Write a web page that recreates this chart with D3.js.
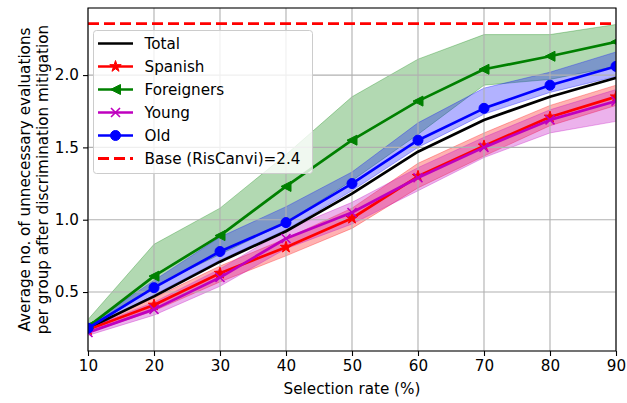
<!DOCTYPE html>
<html>
<head>
<meta charset="utf-8">
<script src="https://cdn.jsdelivr.net/npm/d3@7"></script>
<style>
  html, body { margin: 0; padding: 0; background: #fff; }
  svg { display: block; font-family: "DejaVu Sans", sans-serif; }
</style>
</head>
<body>
<svg id="chart" width="627" height="403"></svg>
<script>
// Selection rates on the x axis
const rates = [10, 20, 30, 40, 50, 60, 70, 80, 90];

// Mean number of unnecessary evaluations per group
const total      = [0.25, 0.47, 0.71, 0.92, 1.18, 1.47, 1.69, 1.85, 1.98];
const spanish    = [0.24, 0.41, 0.63, 0.81, 1.01, 1.30, 1.51, 1.71, 1.85];
const foreigners = [0.26, 0.61, 0.89, 1.23, 1.55, 1.82, 2.04, 2.13, 2.23];
const young      = [0.22, 0.38, 0.60, 0.87, 1.05, 1.29, 1.50, 1.69, 1.82];
const old        = [0.25, 0.53, 0.78, 0.98, 1.25, 1.55, 1.77, 1.93, 2.06];

// Spread bands (lower / upper) around each group mean
const spanishLo    = [0.22, 0.37, 0.57, 0.75, 0.94, 1.22, 1.44, 1.65, 1.79];
const spanishHi    = [0.26, 0.46, 0.68, 0.87, 1.08, 1.39, 1.60, 1.79, 1.93];
const foreignersLo = [0.23, 0.54, 0.76, 0.98, 1.27, 1.59, 1.93, 1.97, 2.06];
const foreignersHi = [0.31, 0.83, 1.08, 1.45, 1.85, 2.11, 2.28, 2.28, 2.35];
const youngLo      = [0.20, 0.34, 0.54, 0.80, 0.97, 1.20, 1.43, 1.60, 1.68];
const youngHi      = [0.25, 0.43, 0.66, 0.93, 1.12, 1.36, 1.57, 1.76, 1.90];
const oldLo        = [0.23, 0.48, 0.72, 0.93, 1.20, 1.50, 1.73, 1.88, 1.99];
const oldHi        = [0.27, 0.58, 0.88, 1.09, 1.33, 1.67, 1.91, 2.02, 2.16];

// Baseline of the RisCanvi protocol
const baseValue = 2.356;

const yTicks = [0.5, 1.0, 1.5, 2.0];
const seriesNames = ["Total", "Spanish", "Foreigners", "Young", "Old"];

// ---------------------------------------------------------------
const svg = d3.select("#chart");
const W = 627, H = 403;
const m = { left: 88, right: 11, top: 8, bottom: 52 };
const pw = W - m.left - m.right, ph = H - m.top - m.bottom;
const FONT = 15.2;

const series = [
  { name: "Total",      color: "#000000", v: total,      lo: null,         hi: null,         marker: "none" },
  { name: "Spanish",    color: "#ff0000", v: spanish,    lo: spanishLo,    hi: spanishHi,    marker: "star" },
  { name: "Foreigners", color: "#008000", v: foreigners, lo: foreignersLo, hi: foreignersHi, marker: "triLeft" },
  { name: "Young",      color: "#bf00bf", v: young,      lo: youngLo,      hi: youngHi,      marker: "x" },
  { name: "Old",        color: "#0000ff", v: old,        lo: oldLo,        hi: oldHi,        marker: "circle" }
];

// y range with 5% margins around data + baseline
const allLo = d3.min(series.filter(s => s.lo).flatMap(s => s.lo).concat(series.flatMap(s => s.v)));
const allHi = d3.max(series.filter(s => s.hi).flatMap(s => s.hi).concat(series.flatMap(s => s.v), [baseValue]));
const pad = 0.05 * (allHi - allLo);

const x = d3.scaleLinear().domain([10, 90]).range([m.left, m.left + pw]);
const y = d3.scaleLinear().domain([allLo - pad, allHi + pad]).range([m.top + ph, m.top]);

const clipId = "plotClip";
svg.append("defs").append("clipPath").attr("id", clipId)
  .append("rect").attr("x", m.left).attr("y", m.top).attr("width", pw).attr("height", ph);

const bandLayer = svg.append("g").attr("clip-path", `url(#${clipId})`);
const gridLayer = svg.append("g");
const plot = svg.append("g").attr("clip-path", `url(#${clipId})`);

// Bands
const area = d3.area()
  .x((d, i) => x(rates[i]))
  .y0(d => y(d[0]))
  .y1(d => y(d[1]));
series.filter(s => s.lo).forEach(s => {
  bandLayer.append("path")
    .datum(s.lo.map((l, i) => [l, s.hi[i]]))
    .attr("d", area)
    .attr("fill", s.color)
    .attr("fill-opacity", 0.3)
    .attr("stroke", s.color)
    .attr("stroke-opacity", 0.3)
    .attr("stroke-width", 1);
});

// Grid
rates.forEach(r => {
  gridLayer.append("line").attr("x1", x(r)).attr("x2", x(r)).attr("y1", m.top).attr("y2", m.top + ph)
    .attr("stroke", "#b0b0b0").attr("stroke-width", 1.1);
});
yTicks.forEach(t => {
  gridLayer.append("line").attr("x1", m.left).attr("x2", m.left + pw).attr("y1", y(t)).attr("y2", y(t))
    .attr("stroke", "#b0b0b0").attr("stroke-width", 1.1);
});

// Marker shapes
function markerPath(type, r) {
  if (type === "circle") return d3.symbol(d3.symbolCircle, Math.PI * r * r)();
  if (type === "triLeft") return `M${-r},0L${r},${-r}L${r},${r}Z`;
  if (type === "star") {
    const pts = [];
    const ri = r * 0.381966;
    for (let k = 0; k < 10; k++) {
      const a = -Math.PI / 2 + k * Math.PI / 5;
      const rr = k % 2 === 0 ? r : ri;
      pts.push([rr * Math.cos(a), rr * Math.sin(a)]);
    }
    return "M" + pts.map(p => p.join(",")).join("L") + "Z";
  }
  if (type === "x") return `M${-r},${-r}L${r},${r}M${-r},${r}L${r},${-r}`;
  return "";
}
const markerSize = { circle: 5, triLeft: 5, star: 6, x: 4.5 };

function drawMarker(g, type, color, cx, cy) {
  if (type === "none") return;
  const p = g.append("path")
    .attr("transform", `translate(${cx},${cy})`)
    .attr("d", markerPath(type, markerSize[type]));
  if (type === "x") p.attr("fill", "none").attr("stroke", color).attr("stroke-width", 1.6);
  else p.attr("fill", color).attr("stroke", color).attr("stroke-width", 1);
}

// Lines + markers (clipped to the axes)
const line = d3.line().x((d, i) => x(rates[i])).y(d => y(d));
series.forEach(s => {
  const g = plot.append("g");
  g.append("path")
    .datum(s.v)
    .attr("d", line)
    .attr("fill", "none")
    .attr("stroke", s.color)
    .attr("stroke-width", 2.7)
    .attr("stroke-linejoin", "round")
    .attr("stroke-linecap", "square");
  s.v.forEach((v, i) => drawMarker(g, s.marker, s.color, x(rates[i]), y(v)));
});

// Baseline
plot.append("line")
  .attr("x1", m.left).attr("x2", m.left + pw)
  .attr("y1", y(baseValue)).attr("y2", y(baseValue))
  .attr("stroke", "#ff0000").attr("stroke-width", 2.8)
  .attr("stroke-dasharray", "11,5");

// Axes
const xAxis = svg.append("g").attr("transform", `translate(0,${m.top + ph})`)
  .call(d3.axisBottom(x).tickValues(rates).tickFormat(d3.format("d")).tickSize(5).tickPadding(4));
const yAxis = svg.append("g").attr("transform", `translate(${m.left},0)`)
  .call(d3.axisLeft(y).tickValues(yTicks).tickFormat(d3.format(".1f")).tickSize(5).tickPadding(4));
[xAxis, yAxis].forEach(a => {
  a.select(".domain").remove();
  a.selectAll("line").attr("stroke", "#000").attr("stroke-width", 1.1);
  a.selectAll("text").attr("fill", "#000").style("font-size", FONT + "px").style("font-family", "DejaVu Sans");
});

// Frame
svg.append("rect").attr("x", m.left).attr("y", m.top).attr("width", pw).attr("height", ph)
  .attr("fill", "none").attr("stroke", "#000").attr("stroke-width", 1.1);

// Axis labels
svg.append("text")
  .attr("x", m.left + pw / 2).attr("y", 394)
  .attr("text-anchor", "middle").style("font-size", FONT + "px")
  .text("Selection rate (%)");
const yl = svg.append("text")
  .attr("transform", `translate(0,${m.top + ph / 2}) rotate(-90)`)
  .attr("text-anchor", "middle").style("font-size", FONT + "px");
yl.append("tspan").attr("x", 0).attr("y", 30).text("Average no. of unnecessary evaluations");
yl.append("tspan").attr("x", 0).attr("y", 48).text("per group after discrimination mitigation");

// Legend
const lg = svg.append("g");
lg.append("rect")
  .attr("x", 93.5).attr("y", 30.5).attr("width", 219).attr("height", 143).attr("rx", 3)
  .attr("fill", "#fff").attr("fill-opacity", 0.8)
  .attr("stroke", "#cccccc").attr("stroke-width", 1);
const legendItems = series.map(s => ({ label: s.name, color: s.color, marker: s.marker, dash: null }))
  .concat([{ label: `Base (RisCanvi)=${baseValue.toFixed(1)}`, color: "#ff0000", marker: "none", dash: "11,5" }]);
legendItems.forEach((it, i) => {
  const cy = 43.5 + i * 23;
  lg.append("line").attr("x1", 98).attr("x2", 133).attr("y1", cy).attr("y2", cy)
    .attr("stroke", it.color).attr("stroke-width", it.dash ? 2.8 : 2.7)
    .attr("stroke-dasharray", it.dash);
  drawMarker(lg, it.marker, it.color, 115.5, cy);
  lg.append("text").attr("x", 144.5).attr("y", cy + 5.5)
    .style("font-size", FONT + "px").attr("fill", "#000").text(it.label);
});
</script>
</body>
</html>
